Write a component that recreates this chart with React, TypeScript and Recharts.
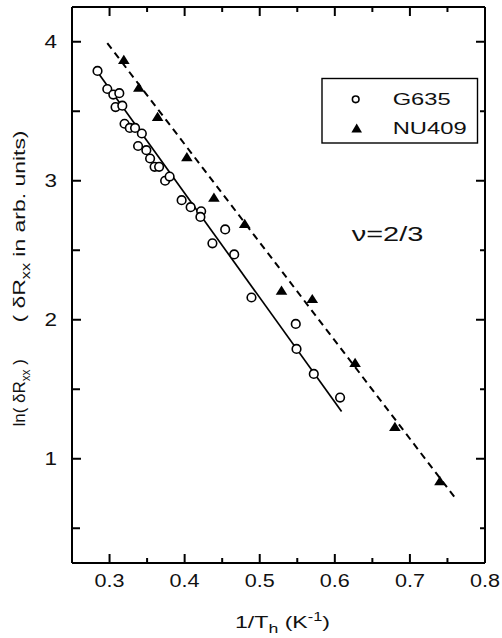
import { ScatterChart, Scatter, XAxis, YAxis } from "recharts";

// G635 (open circles)
const G635_X = [
  0.284, 0.297, 0.305, 0.313, 0.308, 0.317, 0.32, 0.327, 0.334, 0.343, 0.338,
  0.349, 0.354, 0.36, 0.366, 0.374, 0.38, 0.396, 0.408, 0.422, 0.421, 0.454,
  0.437, 0.466, 0.489, 0.548, 0.549, 0.572, 0.607,
];
const G635_Y = [
  3.79, 3.66, 3.62, 3.63, 3.53, 3.54, 3.41, 3.38, 3.38, 3.34, 3.25, 3.22, 3.16,
  3.1, 3.1, 3.0, 3.03, 2.86, 2.81, 2.78, 2.74, 2.65, 2.55, 2.47, 2.16, 1.97,
  1.79, 1.61, 1.44,
];

// NU409 (filled triangles)
const NU409_X = [0.319, 0.339, 0.364, 0.403, 0.439, 0.48, 0.529, 0.57, 0.627, 0.68, 0.74];
const NU409_Y = [3.87, 3.67, 3.46, 3.17, 2.88, 2.69, 2.21, 2.15, 1.69, 1.23, 0.84];

// fitted lines (end points)
const G635_FIT_X = [0.283, 0.609];
const G635_FIT_Y = [3.79, 1.34];
const NU409_FIT_X = [0.297, 0.76];
const NU409_FIT_Y = [3.99, 0.72];

const X_DOMAIN = [0.25, 0.8];
const Y_DOMAIN = [0.25, 4.25];
const X_TICKS = [0.3, 0.35, 0.4, 0.45, 0.5, 0.55, 0.6, 0.65, 0.7, 0.75, 0.8];
const X_LABELED = [0.3, 0.4, 0.5, 0.6, 0.7, 0.8];
const Y_TICKS = [0.5, 1, 1.5, 2, 2.5, 3, 3.5, 4];
const Y_LABELED = [1, 2, 3, 4];

const isIn = (v: number, list: number[]) => list.some((t) => Math.abs(t - v) < 1e-6);
const toPoints = (xs: number[], ys: number[]) => xs.map((x, i) => ({ x, y: ys[i] }));

const g635Data = toPoints(G635_X, G635_Y);
const nu409Data = toPoints(NU409_X, NU409_Y);
const g635Fit = toPoints(G635_FIT_X, G635_FIT_Y);
const nu409Fit = toPoints(NU409_FIT_X, NU409_FIT_Y);

// inward tick marks on all four sides
const [x0, x1] = X_DOMAIN;
const [y0, y1] = Y_DOMAIN;
const bottomMarks = X_TICKS.map((x) => ({ x, y: y0, major: isIn(x, X_LABELED) }));
const topMarks = X_TICKS.map((x) => ({ x, y: y1, major: isIn(x, X_LABELED) }));
const leftMarks = Y_TICKS.map((y) => ({ x: x0, y, major: isIn(y, Y_LABELED) }));
const rightMarks = Y_TICKS.map((y) => ({ x: x1, y, major: isIn(y, Y_LABELED) }));

const W = 502;
const H = 638;
const FONT = "'Liberation Sans', Arial, sans-serif";
const axisLine = { stroke: "#000", strokeWidth: 2 };
const INK = "#111";

const mark = (dir: "up" | "down" | "left" | "right") => (p: any) => {
  const { cx, cy, payload } = p;
  const len = payload.major ? 9 : dir === "right" ? 8 : 5;
  const dx = dir === "right" ? len : dir === "left" ? -len : 0;
  const dy = dir === "down" ? len : dir === "up" ? -len : 0;
  return <line x1={cx} y1={cy} x2={cx + dx} y2={cy + dy} stroke="#000" strokeWidth={2} />;
};

function BottomLabel(props: any) {
  const { x, y, payload } = props;
  if (!isIn(payload.value, X_LABELED)) return <g />;
  return (
    <text x={x} y={y + 24} textAnchor="middle" fontFamily={FONT} fontSize={18}
      textLength={30} lengthAdjust="spacingAndGlyphs" fill={INK}>
      {payload.value.toFixed(1)}
    </text>
  );
}

function LeftLabel(props: any) {
  const { x, y, payload } = props;
  if (!isIn(payload.value, Y_LABELED)) return <g />;
  return (
    <text x={x - 15} y={y + 6.5} textAnchor="end" fontFamily={FONT} fontSize={18}
      textLength={12.5} lengthAdjust="spacingAndGlyphs" fill={INK}>
      {payload.value}
    </text>
  );
}

function OpenCircle(props: any) {
  const { cx, cy } = props;
  return <circle cx={cx} cy={cy} r={4.3} fill="#fff" stroke="#000" strokeWidth={1.6} />;
}

function Triangle(props: any) {
  const { cx, cy } = props;
  return (
    <polygon points={`${cx},${cy - 5} ${cx + 5.8},${cy + 4.2} ${cx - 5.8},${cy + 4.2}`} fill="#000" />
  );
}

const NoDot = () => <g />;

function Overlay() {
  const common = { fontFamily: FONT, fill: INK, lengthAdjust: "spacingAndGlyphs" as const };
  return (
    <svg width={W} height={H} style={{ position: "absolute", left: 0, top: 0, pointerEvents: "none" }}>
      {/* legend */}
      <rect x={322} y={78.5} width={155.5} height={64.5} fill="#fff" stroke="#000" strokeWidth={1.4} />
      <circle cx={355.7} cy={99.3} r={3.3} fill="#fff" stroke="#000" strokeWidth={1.6} />
      <polygon points="356.7,123.5 362,132.5 351.4,132.5" fill="#000" />
      <text x={392.7} y={105} fontSize={17} textLength={58} {...common}>G635</text>
      <text x={392.7} y={134} fontSize={17} textLength={74} {...common}>NU409</text>

      <text x={351.7} y={240.7} fontSize={20} textLength={71.6} {...common}>ν=2/3</text>

      {/* x title */}
      <text x={235} y={628} fontSize={17} textLength={95} {...common}>
        1/T
        <tspan fontSize={13} dy={5}>h</tspan>
        <tspan dy={-5}> (K</tspan>
        <tspan fontSize={12} dy={-7}>-1</tspan>
        <tspan dy={7}>)</tspan>
      </text>

      {/* y title */}
      <text x={25} y={392.8} transform="rotate(-90, 25, 392.8)" textAnchor="middle"
        fontSize={17} textLength={67.5} {...common}>
        ln( δR
        <tspan fontSize={12} dy={5}>xx</tspan>
        <tspan dy={-5}> )</tspan>
      </text>
      <text x={25} y={226.5} transform="rotate(-90, 25, 226.5)" textAnchor="middle"
        fontSize={17} textLength={192} {...common}>
        ( δR
        <tspan fontSize={12} dy={5}>xx</tspan>
        <tspan dy={-5}> in arb. units)</tspan>
      </text>
    </svg>
  );
}

export default function App() {
  return (
    <div style={{ position: "absolute", left: 0, top: 0, width: W, height: H, background: "#fff" }}>
      <ScatterChart width={W} height={H} margin={{ top: 0, right: 0, bottom: 1, left: 1 }}>
        <XAxis dataKey="x" type="number" domain={X_DOMAIN} ticks={X_TICKS}
          height={74} tickSize={0} tickMargin={0} tickLine={false} axisLine={axisLine}
          tick={(p: any) => <BottomLabel {...p} />} />
        {/* top edge of the frame */}
        <XAxis xAxisId="top" orientation="top" type="number" domain={X_DOMAIN}
          height={7} axisLine={axisLine} tickLine={false} tick={false} />
        <YAxis dataKey="y" type="number" domain={Y_DOMAIN} ticks={Y_TICKS}
          width={71} tickSize={0} tickMargin={0} tickLine={false} axisLine={axisLine}
          tick={(p: any) => <LeftLabel {...p} />} />
        {/* right edge of the frame */}
        <YAxis yAxisId="right" orientation="right" type="number" domain={Y_DOMAIN}
          width={17} axisLine={axisLine} tickLine={false} tick={false} />

        <Scatter data={bottomMarks} shape={mark("up")} isAnimationActive={false} />
        <Scatter data={topMarks} shape={mark("down")} isAnimationActive={false} />
        <Scatter data={leftMarks} shape={mark("right")} isAnimationActive={false} />
        <Scatter data={rightMarks} shape={mark("left")} isAnimationActive={false} />

        <Scatter data={g635Fit} line={{ stroke: "#000", strokeWidth: 1.7 }} shape={NoDot} isAnimationActive={false} />
        <Scatter data={nu409Fit} line={{ stroke: "#000", strokeWidth: 2, strokeDasharray: "7 5" }} shape={NoDot} isAnimationActive={false} />
        <Scatter data={g635Data} shape={OpenCircle} isAnimationActive={false} />
        <Scatter data={nu409Data} shape={Triangle} isAnimationActive={false} />
      </ScatterChart>
      <Overlay />
    </div>
  );
}
